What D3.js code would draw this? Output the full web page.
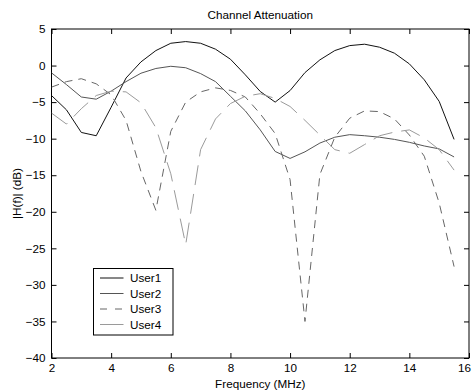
<!DOCTYPE html>
<html>
<head>
<meta charset="utf-8">
<script src="https://cdn.jsdelivr.net/npm/d3@7"></script>
<style>
  body { margin: 0; background: #fff; }
  svg { display: block; font-family: "Liberation Sans", Arial, sans-serif; }
  .axis path { display: none; }
  .axis line { stroke: #000; }
  .axis text { font-size: 11.7px; fill: #000; }
</style>
</head>
<body>
<div class="my-graph"></div>
<script>
// frequency samples (MHz)
const freq = [2, 2.5, 3, 3.5, 4, 4.5, 5, 5.5, 6, 6.5, 7, 7.5, 8, 8.5, 9, 9.5,
  10, 10.5, 11, 11.5, 12, 12.5, 13, 13.5, 14, 14.5, 15, 15.5]

// |H(f)| in dB per user
const user1 = [-4.1, -6.05, -9.15, -9.6, -5.7, -1.7, 0.5, 2.05, 3.05, 3.28, 3.05, 2.24, 0.87, -1.27,
  -3.55, -5.0, -3.42, -0.96, 0.78, 2.05, 2.73, 2.92, 2.51, 1.69, 0.23, -1.95, -4.9, -10.1]
const user2 = [-1.0, -2.6, -4.3, -4.6, -3.5, -2.2, -1.05, -0.4, -0.1, -0.3, -1.1, -2.2, -4.2, -6.2,
  -8.8, -11.75, -12.7, -11.8, -10.6, -9.8, -9.45, -9.6, -9.8, -10.1, -10.5, -11.0, -11.4, -12.5]
const user3 = [-2.95, -2.2, -1.8, -2.5, -4.0, -7.5, -14.5, -19.8, -9.0, -5.0, -3.6, -3.05, -3.4, -4.3,
  -6.6, -9.3, -15.6, -35.0, -14.9, -9.8, -7.2, -6.2, -6.3, -7.3, -9.5, -12.4, -18.8, -27.5]
const user4 = [-6.5, -8.0, -5.9, -4.1, -3.5, -3.6, -5.1, -8.5, -14.8, -24.5, -11.5, -7.3, -5.2, -4.2,
  -3.85, -4.5, -5.6, -7.5, -9.5, -11.5, -12.0, -10.8, -9.6, -9.1, -8.8, -9.9, -11.5, -14.3]

const userNames = ['User1', 'User2', 'User3', 'User4']
const xTicks = [2, 4, 6, 8, 10, 12, 14, 16]
const yTicks = [5, 0, -5, -10, -15, -20, -25, -30, -35, -40]

const drawGraph = () => {
  const width = 472
  const height = 392
  const margin = { top: 29, right: 3, bottom: 34, left: 51.5 }

  const styles = [
    { color: '#111', dash: null, legendDash: null },
    { color: '#555', dash: null, legendDash: null },
    { color: '#666', dash: '8,6', legendDash: '7,8' },
    { color: '#9a9a9a', dash: '20,9', legendDash: null }
  ]
  const allSeries = [user1, user2, user3, user4]

  const xScale = d3.scaleLinear()
    .domain([2, 16])
    .range([margin.left, width - margin.right])

  const yScale = d3.scaleLinear()
    .domain([-40, 5])
    .range([height - margin.bottom, margin.top])

  const svg = d3.select('.my-graph')
    .append('svg')
    .attr('width', width)
    .attr('height', height)

  svg.append('defs').append('clipPath')
    .attr('id', 'plot-clip')
    .append('rect')
    .attr('x', margin.left)
    .attr('y', margin.top)
    .attr('width', xScale(16) - xScale(2))
    .attr('height', yScale(-40) - yScale(5))

  // axes, ticks pointing inward like matlab
  const xAxis = svg.append('g')
    .attr('class', 'x axis')
    .attr('transform', `translate(0, ${yScale(-40)})`)
    .call(d3.axisBottom(xScale).tickValues(xTicks).tickSizeInner(-5).tickSizeOuter(0).tickPadding(6))

  // last label would run off the page, pull it in a little
  xAxis.selectAll('.tick text')
    .filter(d => d === 16)
    .attr('text-anchor', 'end')
    .attr('dx', 1.5)

  svg.append('g')
    .attr('class', 'x axis')
    .attr('transform', `translate(0, ${yScale(5)})`)
    .call(d3.axisTop(xScale).tickValues(xTicks).tickSizeInner(-5).tickSizeOuter(0).tickFormat(''))

  svg.append('g')
    .attr('class', 'y axis')
    .attr('transform', `translate(${xScale(2)}, 0)`)
    .call(d3.axisLeft(yScale).tickValues(yTicks).tickSizeInner(-5).tickSizeOuter(0).tickPadding(6))

  svg.append('g')
    .attr('class', 'y axis')
    .attr('transform', `translate(${xScale(16)}, 0)`)
    .call(d3.axisRight(yScale).tickValues(yTicks).tickSizeInner(-5).tickSizeOuter(0).tickFormat(''))

  svg.append('rect')
    .attr('x', xScale(2))
    .attr('y', yScale(5))
    .attr('width', xScale(16) - xScale(2))
    .attr('height', yScale(-40) - yScale(5))
    .attr('fill', 'none')
    .attr('stroke', '#000')
    .attr('stroke-width', 1)

  const line = d3.line()
    .x((d, i) => xScale(freq[i]))
    .y(d => yScale(d))

  svg.append('g')
    .attr('clip-path', 'url(#plot-clip)')
    .selectAll('.line')
    .data(allSeries)
    .enter().append('path')
    .attr('class', 'line')
    .attr('d', line)
    .attr('fill', 'none')
    .attr('stroke', (d, i) => styles[i].color)
    .attr('stroke-width', 1)
    .attr('stroke-dasharray', (d, i) => styles[i].dash)

  // title + labels
  svg.append('text')
    .attr('x', (xScale(2) + xScale(16)) / 2)
    .attr('y', 19)
    .attr('text-anchor', 'middle')
    .style('font-size', '11.7px')
    .text('Channel Attenuation')

  svg.append('text')
    .attr('x', (xScale(2) + xScale(16)) / 2)
    .attr('y', 388)
    .attr('text-anchor', 'middle')
    .style('font-size', '11.7px')
    .text('Frequency (MHz)')

  svg.append('text')
    .attr('transform', `translate(21, ${(yScale(5) + yScale(-40)) / 2}) rotate(-90)`)
    .attr('text-anchor', 'middle')
    .style('font-size', '11.7px')
    .text('|H(f)| (dB)')

  // legend
  const legend = svg.append('g').attr('transform', 'translate(93.5, 268.5)')
  legend.append('rect')
    .attr('width', 79.5)
    .attr('height', 66.5)
    .attr('fill', '#fff')
    .attr('stroke', '#000')
    .attr('stroke-width', 1)

  const rows = legend.selectAll('.row')
    .data(userNames)
    .enter().append('g')
    .attr('class', 'row')
    .attr('transform', (d, i) => `translate(0, ${9.5 + i * 15.5})`)

  rows.append('line')
    .attr('x1', 6.5)
    .attr('x2', 30)
    .attr('stroke', (d, i) => styles[i].color)
    .attr('stroke-width', 1)
    .attr('stroke-dasharray', (d, i) => styles[i].legendDash)

  rows.append('text')
    .attr('x', 36.5)
    .attr('dy', '0.35em')
    .style('font-size', '11.7px')
    .text(d => d)
}

drawGraph()
</script>
</body>
</html>
